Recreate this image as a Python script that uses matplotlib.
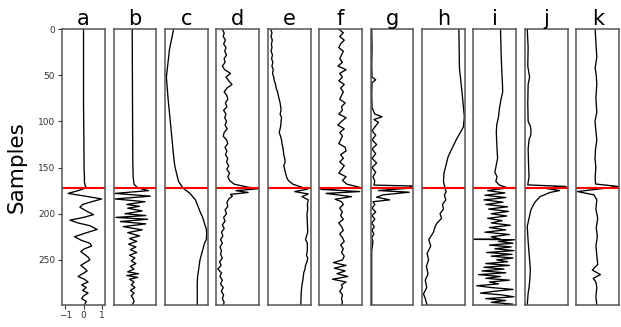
import matplotlib
matplotlib.use("Agg")
import matplotlib.pyplot as plt

# Trace amplitudes (x-units: -1..1 like panel a),
# paired with the sample index they were read at.
panel_labels = ["a", "b", "c", "d", "e", "f", "g", "h", "i", "j", "k"]
pick_sample = 172

a_s = [0, 40, 80, 120, 150, 160, 166, 170, 172, 175, 178, 181, 184, 187, 190, 193, 197, 201, 204, 207,
       210, 213, 217, 221, 225, 229, 232, 235, 238, 241, 244, 247, 250, 253, 256, 259, 262, 265, 268, 271,
       274, 277, 280, 283, 286, 289, 292, 295, 299]
a_v = [0.0, 0.0, 0.0, 0.02, 0.03, 0.05, 0.05, 0.1, 0.15, -0.3, -0.85, 0.1, 1.0, 0.45, -0.05, -0.2, 0.15, 0.55, 0.0, -0.75,
       -0.3, 0.35, 0.75, 0.1, -0.5, -0.1, 0.35, 0.45, 0.05, -0.15, 0.05, 0.25, 0.35, 0.1, -0.15, 0.05, 0.2, -0.05, -0.3, 0.05,
       0.25, -0.1, 0.15, -0.05, 0.25, 0.0, -0.1, 0.15, 0.05]

b_s = [0, 50, 100, 140, 160, 168, 172, 175, 178, 181, 184, 187, 190, 192, 194, 197, 200, 202, 204, 206,
       208.5, 211, 214, 217.5, 220.5, 224, 227, 230, 233, 236, 239, 242, 245, 248, 251, 254, 257, 260, 263, 265,
       267, 269, 271, 274, 277, 280, 283, 286, 289, 292, 295, 299]
b_v = [-0.15, -0.14, -0.13, -0.12, -0.1, -0.05, 0.15, 0.75, -1.1, 0.85, -1.1, 0.55, -0.45, 0.25, -0.4, 0.4, -0.55, 0.6, -1.05, 0.7,
       -0.8, 0.6, -0.65, 0.4, -0.4, 0.25, -0.3, 0.1, -0.35, 0.05, -0.25, 0.1, -0.3, 0.0, -0.2, 0.05, -0.25, -0.05, -0.4, 0.2,
       -0.45, 0.15, -0.3, -0.05, -0.2, 0.0, -0.25, -0.05, -0.2, -0.1, -0.05, -0.15]

c_s = [0, 22, 52, 77, 113, 142, 150, 165, 172, 178, 185, 189, 200, 203, 217, 221, 228, 232, 250, 268, 275, 299]
c_v = [-0.7, -0.93, -1.1, -1.0, -0.82, -0.68, -0.62, -0.43, -0.2, 0.2, 0.5, 0.58, 0.8, 0.88, 1.1, 1.12, 1.1, 1.0, 0.75, 0.62, 0.6, 0.6]

d_s = list(range(0, 165, 4)) + [168, 171, 173, 175, 177, 179, 181, 184] + list(range(188, 297, 4)) + [299]
d_v = [-0.86, -0.75, -0.8, -0.68, -0.78, -0.65, -0.72, -0.62, -0.75, -0.7,
       -0.85, -0.72, -0.4, -0.65, -0.5, -0.32, -0.6, -0.75, -0.6, -0.55,
       -0.68, -0.6, -0.78, -0.65, -0.72, -0.62, -0.7, -0.58, -0.75, -0.8,
       -0.62, -0.55, -0.7, -0.6, -0.68, -0.55, -0.62, -0.5, -0.6, -0.45,
       -0.55, -0.45,
       -0.2, 0.5, 1.12, -0.1, 0.57, -0.4, -0.3, -0.5,
       -0.6, -0.55, -0.7, -0.62, -0.78, -0.7, -0.85, -0.75, -0.9, -0.82,
       -0.95, -0.85, -0.98, -0.9, -0.95, -0.85, -1.0, -0.92, -1.1, -0.9,
       -0.98, -0.85, -0.95, -0.8, -0.9, -0.78, -0.85, -0.75, -0.8]

e_s = list(range(0, 165, 4)) + [168, 170.7, 173.5, 176, 178.6, 181.5, 185] + \
      [190, 195, 200, 210, 220, 228, 232, 240, 245, 248, 252, 256, 260, 264, 268, 272, 278, 285, 292, 299]
e_v = [-1.02, -0.95, -1.0, -0.93, -0.98, -0.95, -1.0, -0.92, -0.97, -0.9,
       -0.95, -0.88, -0.92, -0.85, -0.82, -0.75, -0.72, -0.64, -0.6, -0.55,
       -0.5, -0.47, -0.45, -0.5, -0.42, -0.45, -0.46, -0.5, -0.55, -0.48,
       -0.42, -0.4, -0.35, -0.32, -0.3, -0.25, -0.22, -0.3, -0.25, -0.2,
       -0.15, -0.05,
       0.2, 0.6, 1.0, 0.3, 1.05, 0.7, 1.05,
       1.0, 1.02, 0.98, 1.0, 1.02, 0.9, 1.0, 1.0, 0.95, 1.02,
       0.98, 0.9, 0.87, 0.8, 0.78, 0.75, 0.7, 0.66, 0.65, 0.64]

f_s = list(range(0, 165, 4)) + [168, 171.4, 173.6, 176, 178, 181.5, 184.3, 187] + \
      [190, 194, 198, 202, 206, 210, 214, 218, 222, 226, 230, 234, 238, 242, 246, 250,
       253, 256, 259, 262, 265, 268, 271, 274, 277, 280, 284, 288, 292, 296, 299]
f_v = [-0.1, 0.15, -0.05, 0.2, 0.0, -0.1, 0.15, 0.05, -0.05, 0.1,
       -0.15, 0.3, -0.05, 0.1, -0.1, 0.2, 0.0, 0.15, 0.05, -0.05,
       0.25, 0.05, 0.1, -0.1, 0.3, 0.05, -0.15, 0.2, -0.05, 0.1,
       0.0, -0.1, 0.25, 0.3, 0.0, 0.15, -0.05, 0.2, 0.05, -0.1,
       0.3, 0.1,
       0.35, 1.05, -1.09, 1.05, -0.8, 0.6, -0.3, 0.05,
       0.15, -0.05, 0.1, 0.0, 0.15, -0.1, 0.05, 0.15, -0.05, 0.1,
       0.2, 0.0, 0.15, 0.05, 0.2, 0.1, -0.4, 0.3, -0.35, 0.25,
       -0.2, 0.4, -0.45, 0.3, 0.05, 0.1, -0.05, 0.1, 0.05, 0.1, 0.05]

g_s = [0, 20, 40, 52, 55, 58, 70, 85, 92, 95, 98, 101, 110, 115, 120, 125, 130, 135, 140, 145,
       150, 155, 160, 165, 169, 170, 172.4, 174.9, 176.7, 179.6, 182.1, 185, 187, 190, 194, 198, 202, 206, 210, 214,
       218, 222, 226, 230, 240, 260, 280, 299]
g_v = [-1.12, -1.1, -1.12, -1.1, -0.9, -1.1, -1.12, -1.1, -0.95, -0.55, -1.0, -0.75, -1.1, -0.9, -1.1, -0.85, -1.1, -0.9, -1.1, -0.85,
       -1.1, -0.9, -1.05, -0.95, -1.0, 1.12, 0.9, -0.75, 0.95, -0.5, -0.85, -0.13, -1.05, -0.95, -1.1, -0.9, -1.1, -0.95, -1.12, -0.98,
       -1.1, -1.0, -1.12, -1.05, -1.12, -1.12, -1.12, -1.12]

h_s = [0, 42, 70, 95, 106, 120, 138, 156, 165, 172, 176, 180, 185, 190, 195, 200, 205, 210, 214, 220,
       228, 235, 243, 250, 257, 265, 272, 280, 287, 292, 299]
h_v = [0.85, 0.88, 1.03, 1.15, 1.1, 0.7, 0.26, 0.03, 0.0, 0.08, 0.15, 0.05, 0.13, -0.05, 0.0, -0.19, -0.1, -0.35, -0.46, -0.55,
       -0.81, -0.7, -0.9, -0.82, -0.94, -0.85, -1.0, -0.92, -1.1, -1.0, -0.9]

i_s = [0, 15, 30, 45, 60, 68, 75, 86, 95, 104, 112, 122, 130, 140, 148, 155, 160, 165, 169] + \
      [172, 175, 177.5, 180, 182.5, 185, 187.5, 190, 192.5, 195, 197.5, 200, 202.5, 205, 207.5, 210,
       212.5, 215, 217.5, 220, 222.5, 225, 227.5, 227.8, 228.2] + list(range(230, 299, 2)) + [299]
i_v = [0.31, 0.33, 0.35, 0.38, 0.42, 0.43, 0.35, 0.25, 0.2, 0.1, 0.08, 0.1, 0.12, 0.15, 0.07, 0.0, 0.12, 0.05, 0.25,
       0.7, -0.4, 0.55, -0.55, 0.6, -0.6, 0.45, -0.5, 0.7, -0.35, 0.75, -0.2, 0.65, -0.4, 0.4, -0.2,
       0.85, -0.3, 0.6, -0.55, 0.8, -0.2, 0.3, -1.15, 1.08,
       0.2, 1.0, -0.3, 0.9, 0.0, 1.05, -0.45, 0.95, -0.2, 1.0,
       0.1, 0.7, -0.5, 0.8, -0.6, 0.5, -0.7, 0.6, -0.9, 0.3,
       -0.5, 0.8, -0.3, 0.2, -1.0, -0.2, 1.0, 0.0, -0.8, 0.4,
       1.05, -0.5, 0.6, -0.2, 1.0, 0.5]

j_s = [0, 20, 40, 52, 60, 80, 100, 105, 110, 115, 120, 130, 145, 160, 168.8, 170.5, 172.4, 174.9, 177, 181.5,
       186.9, 190, 196, 205, 213.8, 230, 250, 260, 270, 280, 286, 299]
j_v = [-1.05, -1.0, -1.02, -0.92, -1.0, -1.02, -1.0, -0.88, -0.84, -0.86, -0.95, -1.0, -0.98, -0.95, -1.02, 1.09, -0.07, 0.73, 0.2, -0.34,
       -0.6, -0.7, -0.85, -0.95, -1.05, -1.0, -0.92, -0.88, -0.9, -0.95, -1.0, -1.05]

k_s = [0, 15, 30, 42, 50, 60, 75, 90, 100, 110, 120, 130, 140, 150, 160, 167.8, 170.6, 176.0, 179.6, 185,
       195, 205, 215, 225, 235, 245, 255, 261, 266, 270, 274, 280, 290, 299]
k_v = [-0.14, -0.1, -0.05, -0.14, -0.08, -0.05, -0.1, -0.05, -0.15, -0.1, -0.05, -0.12, -0.15, -0.1, -0.14, -0.12, 1.16, -1.12, -0.2, -0.05,
       -0.1, 0.0, -0.08, -0.02, -0.1, -0.05, 0.0, -0.3, 0.15, -0.25, -0.1, -0.05, -0.1, -0.05]

traces = [(a_s, a_v), (b_s, b_v), (c_s, c_v), (d_s, d_v), (e_s, e_v), (f_s, f_v),
          (g_s, g_v), (h_s, h_v), (i_s, i_v), (j_s, j_v), (k_s, k_v)]

fig, axes = plt.subplots(1, 11, figsize=(6.21, 3.27), dpi=100, sharey=True)
fig.subplots_adjust(left=0.1, right=0.997, top=0.911, bottom=0.067, wspace=0.2)

for ax, label, (s, v) in zip(axes, panel_labels, traces):
    ax.plot(v, s, color="k", linewidth=0.95)
    ax.axhline(pick_sample, color="red", linewidth=1.5)
    ax.set_xlim(-1.18, 1.18)
    ax.set_title(label, fontsize=15, pad=3)
    for sp in ax.spines.values():
        sp.set_color("#555555")
        sp.set_linewidth(1.1)
    ax.set_xticks([])
    ax.tick_params(axis="y", length=0)

ax0 = axes[0]
ax0.set_ylim(299, 0)
ax0.set_yticks([0, 50, 100, 150, 200, 250])
ax0.tick_params(axis="y", length=3, labelsize=6.5, pad=2, colors="#333333")
ax0.set_xticks([-1, 0, 1])
ax0.tick_params(axis="x", length=3, labelsize=6.5, pad=1.5, colors="#333333")
ax0.set_ylabel("Samples", fontsize=15.5, labelpad=8)

fig.savefig("out.png", dpi=100)
